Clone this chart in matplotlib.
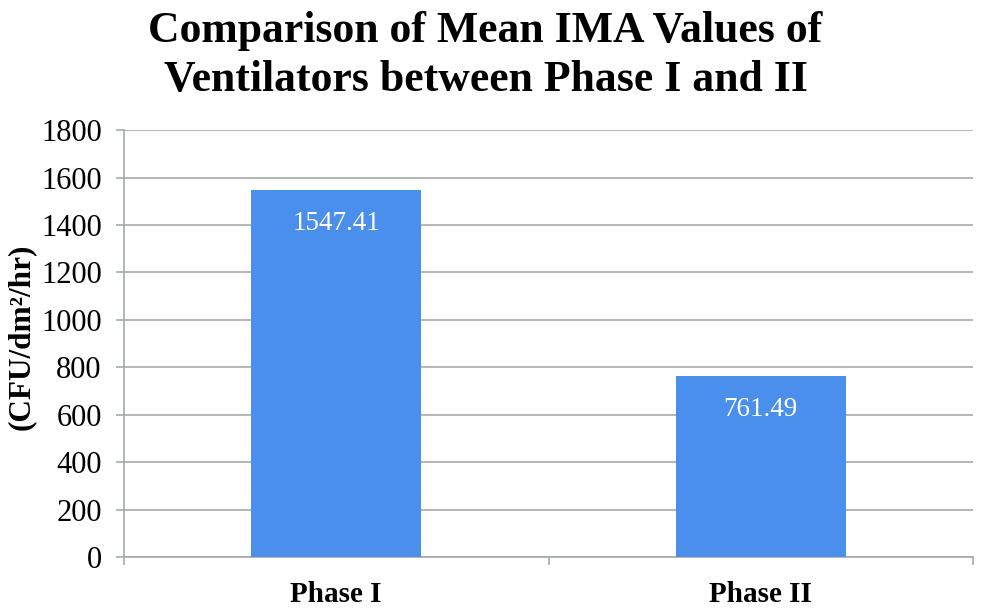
import numpy as np
import matplotlib.pyplot as plt

phases = ["Phase I", "Phase II"]
means = [1547.41, 761.49]
yticks = [0, 200, 400, 600, 800, 1000, 1200, 1400, 1600, 1800]

plt.rcParams['font.family'] = ['Liberation Serif', 'DejaVu Serif']
grey = "#A3ABAA"

fig = plt.figure(figsize=(9.83, 6.08), dpi=100)
ax = fig.add_axes([0.126, 0.084, 0.864, 0.702])

x = np.arange(len(phases))
bars = ax.bar(x, means, width=0.4, color="#4A8FEC", zorder=3)
for b, v in zip(bars, means):
    ax.annotate("{:.2f}".format(v), (b.get_x() + b.get_width() / 2, v),
                xytext=(0, -24), textcoords="offset points",
                ha="center", va="center", color="white", fontsize=19.5)

ax.set_xlim(-0.5, len(phases) - 0.5)
ax.set_ylim(0, 1800)
ax.set_yticks(yticks)
ax.set_yticklabels([str(t) for t in yticks], fontsize=22)
ax.yaxis.grid(True, color=grey, linewidth=1.2, zorder=0)
ax.tick_params(axis="y", length=6, color=grey, width=1.2, pad=10)

ax.set_xticks(x)
ax.set_xticklabels(phases, fontsize=21, fontweight="bold")
ax.set_xticks(np.arange(len(phases) + 1) - 0.5, minor=True)
ax.tick_params(axis="x", which="major", length=0, pad=17)
ax.tick_params(axis="x", which="minor", length=6, color=grey, width=1.2)

for s in ["top", "right"]:
    ax.spines[s].set_visible(False)
for s in ["left", "bottom"]:
    ax.spines[s].set_color(grey)
    ax.spines[s].set_linewidth(1.2)

ax.set_ylabel("(CFU/dm²/hr)", fontsize=22.5, fontweight="bold")
ax.yaxis.set_label_coords(-0.104, 0.515)
fig.suptitle("Comparison of Mean IMA Values of\nVentilators between Phase I and II",
             fontsize=31.5, fontweight="bold", y=0.982, x=0.494, linespacing=1.3)

plt.savefig("out.png", dpi=100)
